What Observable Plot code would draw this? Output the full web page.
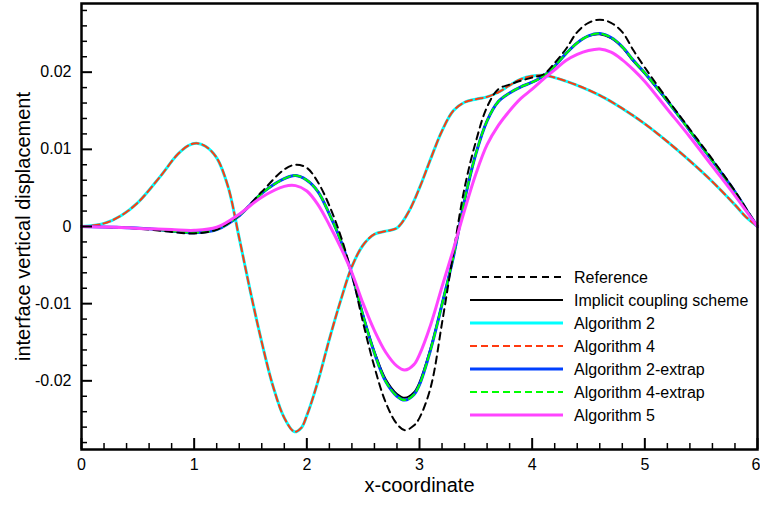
<!DOCTYPE html>
<html><head><meta charset="utf-8">
<script src="https://cdn.jsdelivr.net/npm/d3@7"></script>
<script src="https://cdn.jsdelivr.net/npm/@observablehq/plot@0.6"></script>
<style>
html,body{margin:0;padding:0;background:#fff;}
#wrap{position:relative;width:760px;height:505px;}
#legend{position:absolute;left:465px;top:265px;}
</style></head><body><div id="wrap"></div>
<script>
// ---- data ----
const xA = [0,0.2,0.35,0.5,0.7,0.85,0.95,1.02,1.1,1.2,1.3,1.4,1.5,1.6,1.7,1.8,1.89,1.95,2.0,2.1,2.2,2.3,2.4,2.5,2.6,2.7,2.8,2.9,3.0,3.1,3.2,3.3,3.4,3.5,3.6,3.7,3.8,3.9,4.0,4.1,4.2,4.4,4.6,4.8,5.0,5.2,5.4,5.6,5.8,5.9,6.0];
const algorithm2 = [0,0.0004,0.0014,0.0031,0.0065,0.0093,0.0105,0.0108,0.0104,0.0089,0.0052,-0.0015,-0.0085,-0.0150,-0.0207,-0.0248,-0.0266,-0.0261,-0.0245,-0.0200,-0.0146,-0.0096,-0.0052,-0.0024,-0.0010,-0.0006,-0.0002,0.0018,0.0050,0.0088,0.0124,0.0150,0.0161,0.0165,0.0168,0.0174,0.0183,0.0191,0.0195,0.0196,0.0193,0.0183,0.0170,0.0153,0.0133,0.0110,0.0085,0.0058,0.0028,0.0012,0];
const algorithm4 = [0,0.0004,0.0014,0.0031,0.0065,0.0093,0.0105,0.0108,0.0104,0.0089,0.0052,-0.0015,-0.0085,-0.0150,-0.0207,-0.0248,-0.0266,-0.0261,-0.0245,-0.0200,-0.0146,-0.0096,-0.0052,-0.0024,-0.0010,-0.0006,-0.0002,0.0018,0.0050,0.0088,0.0124,0.0150,0.0161,0.0165,0.0168,0.0174,0.0183,0.0191,0.0195,0.0196,0.0193,0.0183,0.0170,0.0153,0.0133,0.0110,0.0085,0.0058,0.0028,0.0012,0];

const xB = [0,0.3,0.6,0.8,1.0,1.2,1.4,1.6,1.8,1.9,2.0,2.1,2.2,2.3,2.4,2.5,2.6,2.7,2.8,2.87,2.95,3.0,3.1,3.2,3.3,3.4,3.5,3.6,3.7,3.8,3.9,4.0,4.1,4.2,4.3,4.4,4.5,4.6,4.7,4.8,4.9,5.0,5.2,5.4,5.6,5.8,5.9,6.0];
const reference = [0,-0.0001,-0.0004,-0.0007,-0.0009,-0.0004,0.0015,0.0045,0.0074,0.0080,0.0076,0.0057,0.0027,-0.0012,-0.0062,-0.0125,-0.0182,-0.0228,-0.0256,-0.0264,-0.0258,-0.0248,-0.0208,-0.0125,-0.0035,0.0050,0.0110,0.0155,0.0178,0.0184,0.0189,0.0193,0.0197,0.0212,0.0230,0.0252,0.0264,0.0268,0.0264,0.0252,0.0228,0.0206,0.0165,0.0126,0.0087,0.0046,0.0023,0];
const implicit = [0,-0.0001,-0.0003,-0.0006,-0.0008,-0.0004,0.0014,0.0043,0.0062,0.0066,0.0060,0.0045,0.0016,-0.0018,-0.0062,-0.0115,-0.0162,-0.0198,-0.0217,-0.0222,-0.0215,-0.0202,-0.0157,-0.0100,-0.0040,0.0034,0.0094,0.0137,0.0162,0.0173,0.0181,0.0187,0.0195,0.0208,0.0224,0.0238,0.0247,0.0249,0.0244,0.0232,0.0214,0.0198,0.0162,0.0124,0.0085,0.0045,0.0022,0];
const algorithm2Extrap = [0,-0.0001,-0.0003,-0.0006,-0.0008,-0.0004,0.0014,0.0043,0.0062,0.0066,0.0060,0.0045,0.0016,-0.0018,-0.0062,-0.0116,-0.0164,-0.0201,-0.0220,-0.0225,-0.0218,-0.0205,-0.0159,-0.0101,-0.0040,0.0034,0.0094,0.0137,0.0162,0.0173,0.0181,0.0187,0.0195,0.0208,0.0224,0.0238,0.0247,0.0250,0.0245,0.0233,0.0215,0.0199,0.0163,0.0124,0.0085,0.0045,0.0022,0];
const algorithm4Extrap = [0,-0.0001,-0.0003,-0.0006,-0.0008,-0.0004,0.0014,0.0043,0.0062,0.0066,0.0060,0.0045,0.0016,-0.0018,-0.0062,-0.0116,-0.0164,-0.0201,-0.0220,-0.0225,-0.0218,-0.0205,-0.0159,-0.0101,-0.0040,0.0034,0.0094,0.0137,0.0162,0.0173,0.0181,0.0187,0.0195,0.0208,0.0224,0.0238,0.0247,0.0250,0.0245,0.0233,0.0215,0.0199,0.0163,0.0124,0.0085,0.0045,0.0022,0];
const algorithm5 = [0,-0.0001,-0.0003,-0.0004,-0.0005,-0.0001,0.0016,0.0038,0.0052,0.0053,0.0046,0.0028,0.0002,-0.0027,-0.0060,-0.0100,-0.0135,-0.0163,-0.0181,-0.0186,-0.0179,-0.0166,-0.0127,-0.0078,-0.0030,0.0021,0.0068,0.0106,0.0131,0.0150,0.0166,0.0178,0.0191,0.0203,0.0215,0.0223,0.0228,0.0230,0.0226,0.0216,0.0203,0.0188,0.0152,0.0116,0.0078,0.0040,0.0020,0];

const xMajorTicks = [0,1,2,3,4,5,6];
const yMajorTicks = [-0.02,-0.01,0,0.01,0.02];
const xMinorTicks = d3.range(0, 6.01, 0.2).map(v => +v.toFixed(1)).filter(v => !xMajorTicks.includes(v));
const yMinorTicks = d3.range(-28, 29, 2).filter(v => v % 10 !== 0).map(v => v / 1000);

// ---- series styles ----
const series = [
  {name: "Reference", x: xB, y: reference, stroke: "#000000", width: 2, dash: "7,5"},
  {name: "Implicit coupling scheme", x: xB, y: implicit, stroke: "#000000", width: 2, dash: null},
  {name: "Algorithm 2", x: xA, y: algorithm2, stroke: "#00ffff", width: 3, dash: null},
  {name: "Algorithm 4", x: xA, y: algorithm4, stroke: "#ff3a10", width: 2, dash: "7,4"},
  {name: "Algorithm 2-extrap", x: xB, y: algorithm2Extrap, stroke: "#0040ff", width: 3, dash: null},
  {name: "Algorithm 4-extrap", x: xB, y: algorithm4Extrap, stroke: "#00ff00", width: 2, dash: "7,4"},
  {name: "Algorithm 5", x: xB, y: algorithm5, stroke: "#ff44ff", width: 3, dash: null}
];
const drawOrder = [1,2,3,4,5,0,6];

const font = "'Liberation Sans', Arial, Helvetica, sans-serif";

const lineMarks = drawOrder.map(i => {
  const s = series[i];
  return Plot.line(d3.zip(s.x, s.y), {
    x: d => d[0], y: d => d[1], stroke: s.stroke, strokeWidth: s.width,
    strokeDasharray: s.dash ?? undefined, curve: "catmull-rom"
  });
});

const lastX = xMajorTicks[xMajorTicks.length - 1];

const chart = Plot.plot({
  width: 760, height: 505,
  marginLeft: 81, marginRight: 3, marginTop: 3, marginBottom: 56,
  style: {fontFamily: font, background: "#fff", color: "#000", overflow: "visible"},
  x: {domain: [0, 6]},
  y: {domain: [-0.0289, 0.0289]},
  marks: [
    ...lineMarks,
    // tick labels
    Plot.axisX({ticks: xMajorTicks.slice(0, -1), tickSize: 0, tickPadding: 9, fontSize: 16, label: null, tickFormat: d => String(d)}),
    Plot.axisX({ticks: [lastX], tickSize: 0, tickPadding: 9, fontSize: 16, label: null, textAnchor: "end", dx: 3, tickFormat: d => String(d)}),
    Plot.axisY({ticks: yMajorTicks, tickSize: 0, tickPadding: 10, fontSize: 16, label: null, tickFormat: d => String(d)}),
    // inward ticks
    Plot.axisX({ticks: xMajorTicks, tickSize: 11, dy: -11, strokeWidth: 2, tickFormat: () => "", label: null}),
    Plot.axisX({ticks: xMinorTicks, tickSize: 6, dy: -6, strokeWidth: 1.5, tickFormat: () => "", label: null}),
    Plot.axisY({ticks: yMajorTicks, tickSize: 11, dx: 11, strokeWidth: 2, tickFormat: () => "", label: null}),
    Plot.axisY({ticks: yMinorTicks, tickSize: 6, dx: 6, strokeWidth: 1.5, tickFormat: () => "", label: null}),
    Plot.frame({stroke: "#000", strokeWidth: 2.5}),
    // axis titles
    Plot.text(["x-coordinate"], {frameAnchor: "bottom", dy: 42, fontSize: 20, fill: "#000", textAnchor: "middle"}),
    Plot.text(["interface vertical displacement"], {frameAnchor: "left", dx: -58, rotate: -90, fontSize: 20, fill: "#000", textAnchor: "middle"})
  ]
});

const wrap = document.getElementById("wrap");
wrap.appendChild(chart);

// ---- legend (inside plot area, overlay) ----
const leg = d3.select(wrap).append("svg").attr("id", "legend")
  .attr("width", 295).attr("height", 165)
  .style("font-family", font);
series.forEach((s, i) => {
  const cy = 12 + i * 23;
  const g = leg.append("g");
  g.append("line").attr("x1", 5).attr("x2", 98).attr("y1", cy).attr("y2", cy)
    .attr("stroke", s.stroke).attr("stroke-width", s.width)
    .attr("stroke-dasharray", s.dash);
  g.append("text").attr("x", 109).attr("y", cy).attr("dy", "0.35em")
    .attr("font-size", 16).attr("fill", "#000").text(s.name);
});
</script></body></html>
